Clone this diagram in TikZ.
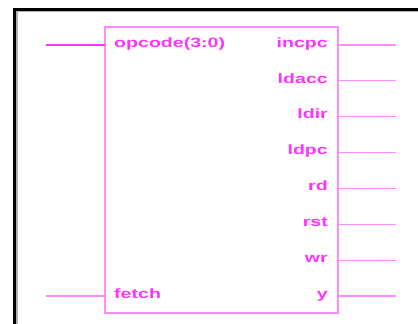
\documentclass[tikz,border=0pt]{standalone}
\usepackage{fontspec}
\newfontfamily\pinfont{Liberation Sans}
\usetikzlibrary{positioning,calc}
\definecolor{pinmag}{HTML}{FF33FF}
\definecolor{boxmag}{HTML}{FF8CFF}
\newcommand{\wide}[1]{\scalebox{1.45}[1]{#1}}

\begin{document}
\begin{tikzpicture}[
    x=1pt, y=-1pt,
    ctrlbox/.style={draw=boxmag, line width=1.5pt, minimum width=233pt, minimum height=286pt, inner sep=0pt, outer sep=0pt},
    pinline/.style={draw=boxmag, line width=1.2pt},
    buswire/.style={draw=pinmag, line width=2.2pt},
    pinlabel/.style={text=pinmag, font=\pinfont\bfseries\fontsize{13.5}{14}\selectfont, inner sep=0pt}
]
    \useasboundingbox (0,0) rectangle (418,324);
    % frame of the screenshot
    \draw[black, line width=3pt] (14,324) -- (14,9) -- (418,9);
    \draw[black!30, line width=1.5pt] (17,324) -- (17,11.5) -- (418,11.5);

    % control unit block
    \node[ctrlbox] (ctl) at (221.5,170) {};

    % inputs
    \coordinate (in-opcode) at (46,45);
    \coordinate (in-fetch) at (46,296);
    \draw[buswire] (in-opcode) -- (in-opcode -| ctl.west);
    \draw[pinline] (in-fetch) -- (in-fetch -| ctl.west);
    \node[pinlabel, anchor=mid west] (lbl-opcode) at ([xshift=9pt]in-opcode -| ctl.west) {\wide{opcode(3:0)}};
    \node[pinlabel, anchor=mid west] (lbl-fetch) at ([xshift=9pt]in-fetch -| ctl.west) {\wide{fetch}};

    % outputs
    \foreach \sig [count=\i] in {incpc,ldacc,ldir,ldpc,rd,rst,wr,y} {
        \coordinate (out-\sig) at (396,{45+251*(\i-1)/7});
        \draw[pinline] (out-\sig -| ctl.east) -- (out-\sig);
        \node[pinlabel, anchor=mid east] (lbl-\sig) at ([xshift=-10pt]out-\sig -| ctl.east) {\wide{\sig}};
    }
\end{tikzpicture}
\end{document}
